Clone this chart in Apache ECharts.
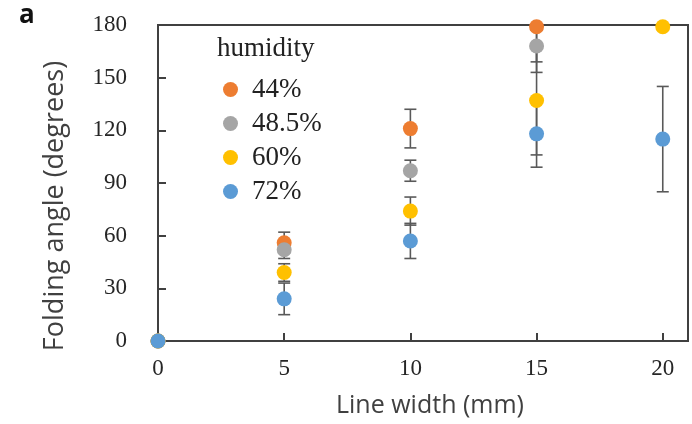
<!DOCTYPE html>
<html>
<head>
<meta charset="utf-8">
<script src="https://cdn.jsdelivr.net/npm/echarts@6/dist/echarts.min.js"></script>
<style>html,body{margin:0;padding:0;background:#fff}#c{width:692px;height:424px}</style>
</head>
<body>
<div id="c"></div>
<script>
const lineWidths = [0, 5, 10, 15, 20];
const seriesNames = ['44%', '48.5%', '60%', '72%'];
const colors = ['#ED7D31', '#A5A5A5', '#FFC000', '#5B9BD5'];
const angle44 = [0, 56, 121, 179, null];
const err44 = [0, 6, 11, 26, null];
const angle485 = [0, 52, 97, 168, null];
const err485 = [0, 5, 6, 9, null];
const angle60 = [0, 39, 74, 137, 179];
const err60 = [0, 5, 8, 31, 0];
const angle72 = [0, 24, 57, 118, 115];
const err72 = [0, 9, 10, 19, 30];
const yTicks = [0, 30, 60, 90, 120, 150, 180];
const xTicks = [0, 5, 10, 15, 20];
const xTitle = 'Line width (mm)';
const yTitle = 'Folding angle (degrees)';

const values = [angle44, angle485, angle60, angle72];
const errs = [err44, err485, err60, err72];

const chart = echarts.init(document.getElementById('c'));

function pts(v) {
  const out = [];
  lineWidths.forEach((x, i) => { if (v[i] !== null) out.push([x, v[i]]); });
  return out;
}
function errPts(v, e) {
  const out = [];
  lineWidths.forEach((x, i) => { if (v[i] !== null && e[i] > 0) out.push([x, v[i] - e[i], v[i] + e[i]]); });
  return out;
}

const series = [];
values.forEach((v, k) => {
  series.push({
    type: 'custom',
    name: seriesNames[k] + ' err',
    z: 1,
    clip: true,
    renderItem: function (params, api) {
      const x = api.value(0);
      const lo = api.coord([x, api.value(1)]);
      const hi = api.coord([x, api.value(2)]);
      const hw = 6;
      const st = { stroke: '#595959', lineWidth: 1.6 };
      return {
        type: 'group',
        children: [
          { type: 'line', shape: { x1: lo[0], y1: lo[1], x2: hi[0], y2: hi[1] }, style: st },
          { type: 'line', shape: { x1: lo[0] - hw, y1: lo[1], x2: lo[0] + hw, y2: lo[1] }, style: st },
          { type: 'line', shape: { x1: hi[0] - hw, y1: hi[1], x2: hi[0] + hw, y2: hi[1] }, style: st }
        ]
      };
    },
    encode: { x: 0, y: [1, 2] },
    data: errPts(v, errs[k])
  });
});
values.forEach((v, k) => {
  series.push({
    type: 'scatter',
    name: seriesNames[k],
    z: 3,
    clip: false,
    symbol: 'circle',
    symbolSize: 15,
    itemStyle: { color: colors[k], opacity: 1 },
    data: pts(v)
  });
});

chart.setOption({
  animation: false,
  backgroundColor: '#fff',
  grid: { left: 158, right: 4, top: 25, bottom: 83, show: true, borderColor: '#404040', borderWidth: 2 },
  legend: {
    data: seriesNames,
    orient: 'vertical',
    left: 218,
    top: 71,
    itemWidth: 15,
    itemHeight: 15,
    itemGap: 7,
    icon: 'circle',
    textStyle: { fontFamily: 'Liberation Serif', fontSize: 27, color: '#222', padding: [0, 0, 0, 9] }
  },
  graphic: [
    { type: 'text', left: 217, top: 35, style: { text: 'humidity', font: '27px "Liberation Serif"', fill: '#222' } },
    { type: 'text', left: 19, top: 3, style: { text: 'a', font: 'bold 26px "Open Sans"', fill: '#111' } },
    { type: 'text', x: 55, y: 206, rotation: Math.PI / 2,
      style: { text: yTitle, font: '27px "Open Sans"', fill: '#404040', align: 'center', verticalAlign: 'middle' } },
    { type: 'text', x: 430, y: 406,
      style: { text: xTitle, font: '25px "Open Sans"', fill: '#404040', align: 'center', verticalAlign: 'middle' } }
  ],
  xAxis: {
    type: 'value', min: 0, max: 21, interval: 5,
    axisLine: { show: true, lineStyle: { color: '#404040', width: 2 } },
    axisTick: { show: true, inside: true, length: 8, lineStyle: { color: '#404040', width: 2 } },
    splitLine: { show: false },
    axisLabel: {
      margin: 16, fontFamily: 'Liberation Serif', fontSize: 23, color: '#262626',
      formatter: function (val) { return xTicks.indexOf(val) >= 0 ? String(val) : ''; }
    }
  },
  yAxis: {
    type: 'value', min: 0, max: 180, interval: 30,
    axisLine: { show: true, lineStyle: { color: '#404040', width: 2 } },
    axisTick: { show: true, inside: true, length: 8, lineStyle: { color: '#404040', width: 2 } },
    splitLine: { show: false },
    axisLabel: {
      margin: 31, fontFamily: 'Liberation Serif', fontSize: 23, color: '#262626',
      formatter: function (val) { return yTicks.indexOf(val) >= 0 ? String(val) : ''; }
    }
  },
  series: series
});
</script>
</body>
</html>
